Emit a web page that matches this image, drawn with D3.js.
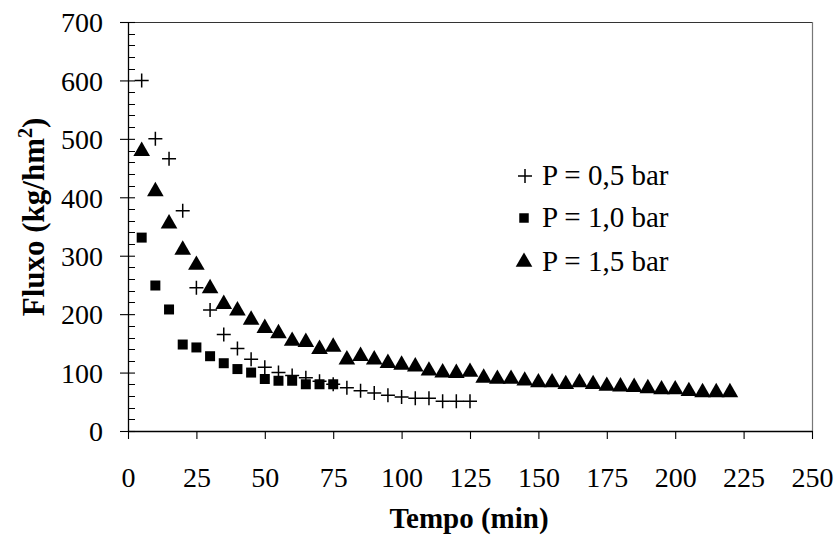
<!DOCTYPE html>
<html><head><meta charset="utf-8">
<script src="https://cdn.jsdelivr.net/npm/d3@7"></script>
<style>
html,body{margin:0;padding:0;background:#fff;}
svg text{font-family:"Liberation Serif","Times New Roman",Times,serif !important;fill:#000;}
</style></head>
<body><svg id="c" width="838" height="535"></svg>
<script>
const timeA = [5,10,15,20,25,30,35,40,45,50,55,60,65,70,75,80,85,90,95,100,105,110,115,120,125];
const fluxA = [600,500,466,377,245,207,165,141,123,109,100,95,91,85,80,74,69,65,61,58,56,56,51,51,51];
const timeB = [5,10,15,20,25,30,35,40,45,50,55,60,65,70,75];
const fluxB = [331,249,208,148,143,128,116,106,100,89,86,86,80,80,80];
const timeC = [5,10,15,20,25,30,35,40,45,50,55,60,65,70,75,80,85,90,95,100,105,110,115,120,125,130,135,140,145,150,155,160,165,170,175,180,185,190,195,200,205,210,215,220];
const fluxC = [479,410,355,310,284,244,217,206,190,176,167,154,152,140,144,122,128,122,116,113,110,103,100,99,101,91,89,89,86,83,83,80,83,80,77,76,75,73,71,71,68,66,66,66];
const seriesNames = ["P = 0,5 bar","P = 1,0 bar","P = 1,5 bar"];
const xTicks = [0,25,50,75,100,125,150,175,200,225,250];
const yTicks = [0,100,200,300,400,500,600,700];
const xTitle = "Tempo (min)";

const svg = d3.select("#c");
const L=128, R=812, T=22, B=431;
const x = d3.scaleLinear().domain([0,250]).range([L,R]);
const y = d3.scaleLinear().domain([0,700]).range([B,T]);

svg.append("line").attr("x1",L).attr("x2",R).attr("y1",T+0.5).attr("y2",T+0.5).attr("stroke","#333").attr("stroke-width",1.2);
svg.append("line").attr("x1",R+0.5).attr("x2",R+0.5).attr("y1",T).attr("y2",B).attr("stroke","#777").attr("stroke-width",1.2);

const yAx = svg.append("g").attr("transform",`translate(${L},0)`)
  .call(d3.axisLeft(y).tickValues(yTicks).tickSize(8).tickSizeOuter(0).tickPadding(0).tickFormat(d3.format("d")));
yAx.attr("font-family",null);
yAx.select(".domain").attr("stroke","#000").attr("stroke-width",1.3);
yAx.selectAll(".tick line").attr("stroke","#000").attr("x2",7).attr("x1",-8).attr("stroke-width",1.1);
yAx.selectAll(".tick text").attr("x",-25).attr("dy","0.35em").style("font-size","28px");
const minor = d3.range(0,701,20).filter(v=>v%100!==0);
svg.append("g").selectAll("line").data(minor).join("line")
  .attr("x1",L).attr("x2",L+7).attr("y1",d=>Math.round(y(d))+0.5).attr("y2",d=>Math.round(y(d))+0.5)
  .attr("stroke","#000").attr("stroke-width",1);

const xAx = svg.append("g").attr("transform",`translate(0,${B})`)
  .call(d3.axisBottom(x).tickValues(xTicks).tickSize(8).tickSizeOuter(0).tickPadding(0).tickFormat(d3.format("d")));
xAx.attr("font-family",null);
xAx.select(".domain").attr("stroke","#000").attr("stroke-width",1.3);
xAx.selectAll(".tick line").attr("stroke","#000").attr("stroke-width",1.1);
xAx.selectAll(".tick text").attr("y",56).attr("dy",0).style("font-size","28px");

svg.append("text").attr("x",469).attr("y",528).attr("text-anchor","middle")
  .style("font-size","29px").style("font-weight","bold").text(xTitle);
const yt = svg.append("text").attr("transform","translate(44,217) rotate(-90)").attr("text-anchor","middle")
  .style("font-size","31px").style("font-weight","bold");
yt.append("tspan").text("Fluxo (kg/hm");
yt.append("tspan").attr("dy",-12).style("font-size","20px").text("2");
yt.append("tspan").attr("dy",12).text(")");

const crossPath = "M-7,0H7M0,-7V7";
const sq = d3.symbol().type(d3.symbolSquare).size(100)();
const tri = d3.symbol().type(d3.symbolTriangle).size(120)();

const dA = timeA.map((t,i)=>[t,fluxA[i]]);
const dB = timeB.map((t,i)=>[t,fluxB[i]]);
const dC = timeC.map((t,i)=>[t,fluxC[i]]);

svg.append("g").selectAll("path").data(dC).join("path")
  .attr("d",tri).attr("transform",d=>`translate(${x(d[0])},${y(d[1])})`).attr("fill","#000");
svg.append("g").selectAll("path").data(dB).join("path")
  .attr("d",sq).attr("transform",d=>`translate(${x(d[0])},${y(d[1])})`).attr("fill","#000");
svg.append("g").selectAll("path").data(dA).join("path")
  .attr("d",crossPath).attr("transform",d=>`translate(${x(d[0])},${y(d[1])})`).attr("stroke","#000").attr("stroke-width",1.5).attr("fill","none");

const legY = [176,218,262];
const leg = svg.append("g");
leg.append("path").attr("d",crossPath).attr("transform",`translate(525,${legY[0]})`).attr("stroke","#000").attr("stroke-width",1.5);
leg.append("path").attr("d",d3.symbol().type(d3.symbolSquare).size(90)()).attr("transform",`translate(524,${legY[1]})`).attr("fill","#000");
leg.append("path").attr("d",tri).attr("transform",`translate(524,${legY[2]})`).attr("fill","#000");
leg.selectAll("text").data(seriesNames).join("text")
  .attr("x",542).attr("y",(d,i)=>legY[i]+9).style("font-size","29px").text(d=>d);
</script></body></html>
